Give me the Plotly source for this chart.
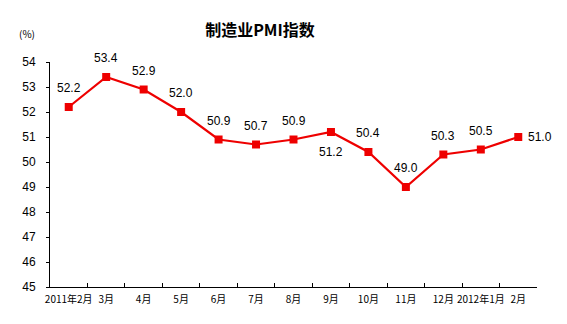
import plotly.graph_objects as go

# Monthly manufacturing PMI, Feb 2011 – Feb 2012
months = ["2011年2月", "3月", "4月", "5月", "6月", "7月", "8月", "9月",
          "10月", "11月", "12月", "2012年1月", "2月"]
pmi = [52.2, 53.4, 52.9, 52.0, 50.9, 50.7, 50.9, 51.2, 50.4, 49.0, 50.3, 50.5, 51.0]
label_side = ["above"] * 7 + ["below"] + ["above"] * 4 + ["right"]
y_ticks = list(range(45, 55))

W, H = 567, 324
L, R, T, B = 50, 30, 62, 37
plot_w, plot_h = W - L - R, H - T - B

fig = go.Figure(go.Scatter(
    x=months, y=pmi,
    mode="lines+markers",
    line=dict(color="#ee0000", width=2.2),
    marker=dict(symbol="square", size=8, color="#ee0000"),
    cliponaxis=False,
))

# value labels, offset from each point
offsets = {"above": dict(xshift=0, yshift=19, xanchor="center"),
           "below": dict(xshift=0, yshift=-20, xanchor="center"),
           "right": dict(xshift=8, yshift=0, xanchor="left")}
for m, v, side in zip(months, pmi, label_side):
    fig.add_annotation(x=m, y=v, text=f"{v:.1f}", showarrow=False,
                       yanchor="middle",
                       font=dict(family="Arial, Liberation Sans", size=12, color="#000"),
                       **offsets[side])

fig.add_annotation(text="(%)", showarrow=False, xref="paper", yref="paper",
                   x=(27 - L) / plot_w, y=(H - B - 33) / plot_h,
                   xanchor="center", yanchor="middle",
                   font=dict(family="Noto Sans CJK SC", size=10, color="#000"))

fig.update_layout(
    width=W, height=H,
    margin=dict(l=L, r=R, t=T, b=B, autoexpand=False),
    paper_bgcolor="white", plot_bgcolor="white",
    showlegend=False,
    title=dict(text="<b>制造业PMI指数</b>", x=260 / W, xanchor="center",
               y=1 - 30 / H, yanchor="middle",
               font=dict(family="Noto Sans CJK SC", size=16, color="#000")),
)

fig.update_xaxes(
    type="category", tickson="boundaries", ticks="inside", ticklen=4,
    tickcolor="#000", showline=True, linecolor="#000", linewidth=1,
    showgrid=False, zeroline=False, tickangle=0, automargin=False,
    ticklabelstandoff=3,
    tickfont=dict(family="Noto Sans CJK SC", size=10, color="#000"),
    range=[-0.5, len(months) - 0.5],
)
fig.update_yaxes(
    range=[45, 54], tickvals=y_ticks, ticks="outside", ticklen=3,
    tickcolor="#000", showline=True, linecolor="#000", linewidth=1,
    showgrid=False, zeroline=False, automargin=False,
    ticklabelstandoff=8,
    tickfont=dict(family="Arial, Liberation Sans", size=12, color="#000"),
)

fig.write_html("out.html")
